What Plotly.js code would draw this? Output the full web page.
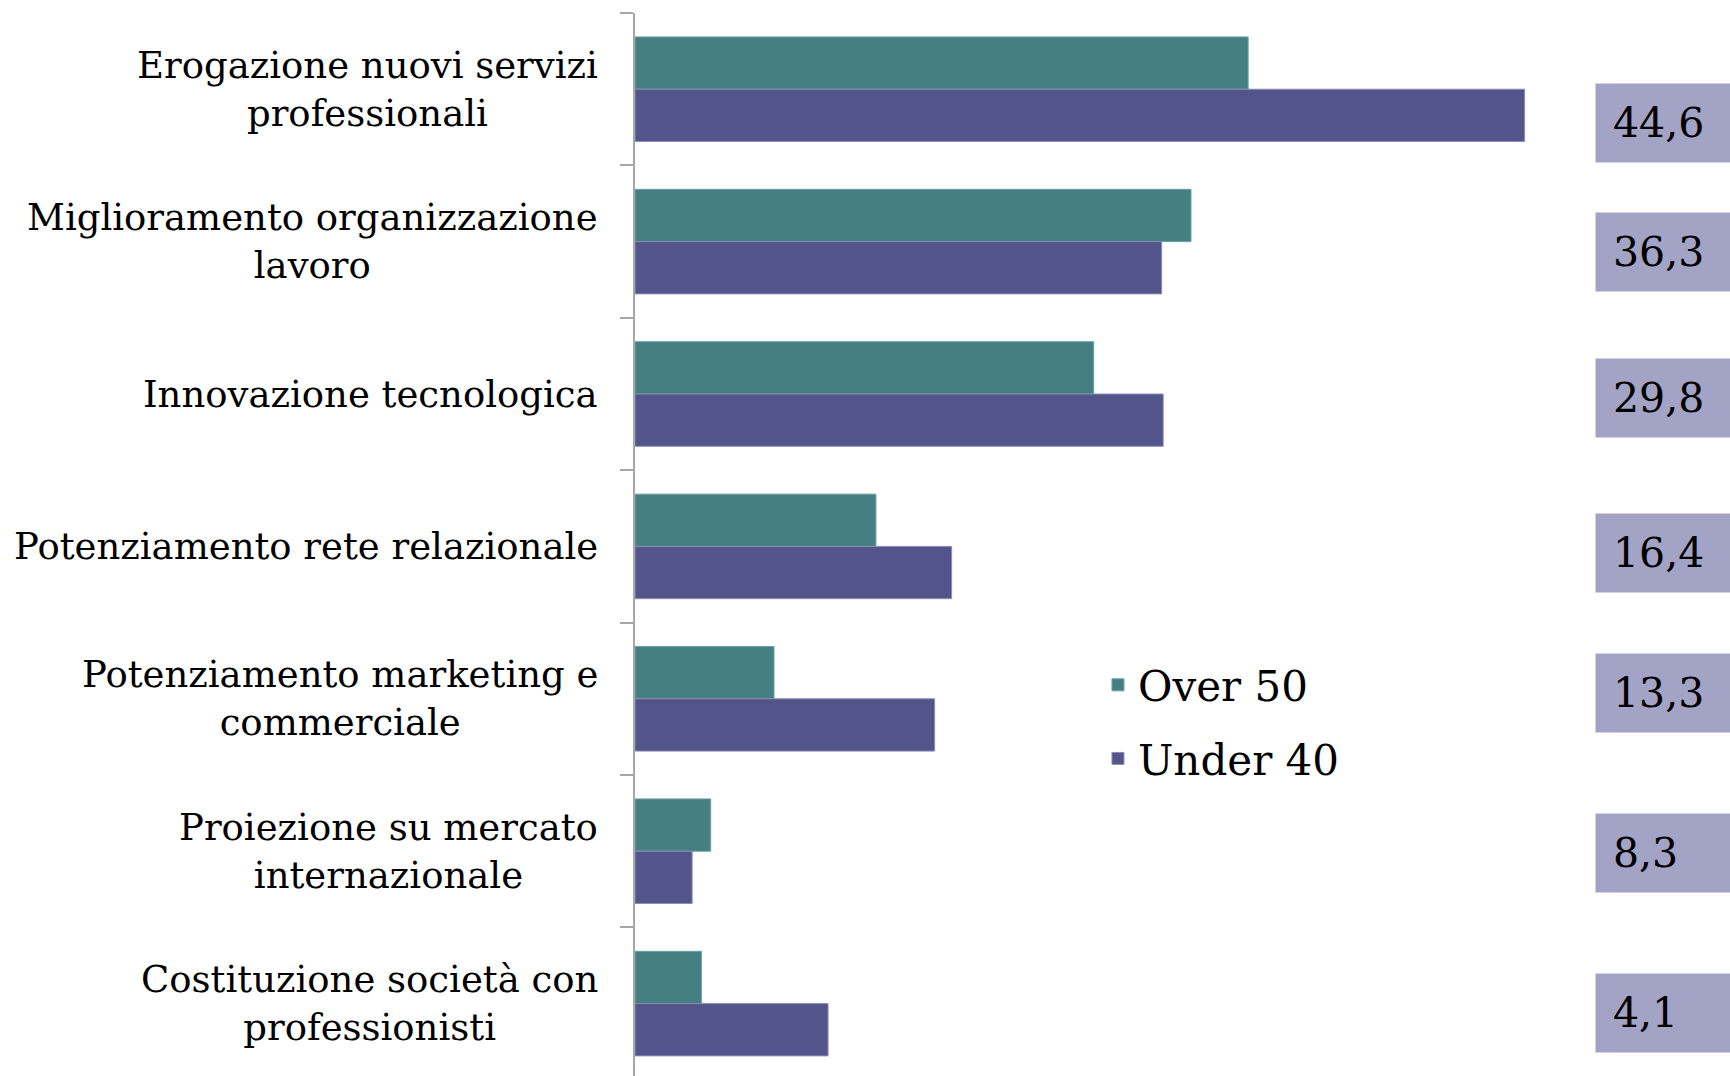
<!DOCTYPE html>
<html>
<head>
<meta charset="utf-8">
<script src="https://cdn.plot.ly/plotly-3.0.1.min.js"></script>
<style>html,body{margin:0;padding:0;background:#fff;}</style>
</head>
<body>
<div id="chart" style="width:1730px;height:1076px;"></div>
<script>
// Data
var categories = [
  "Erogazione nuovi servizi<br>professionali",
  "Miglioramento organizzazione<br>lavoro",
  "Innovazione tecnologica",
  "Potenziamento rete relazionale",
  "Potenziamento marketing e<br>commerciale",
  "Proiezione su mercato<br>internazionale",
  "Costituzione società con<br>professionisti"
];
var over50 = [39.7, 36.0, 29.7, 15.6, 9.0, 4.9, 4.3];
var under40 = [57.6, 34.1, 34.2, 20.5, 19.4, 3.7, 12.5];
var totals = [44.6, 36.3, 29.8, 16.4, 13.3, 8.3, 4.1];
var seriesNames = ["Over 50", "Under 40"];

// Styling helpers (pixel nudges for the total boxes)
var boxNudge = [34, 10, 4, 7, -6, 2, 9];

var FONT = "DejaVu Serif, Georgia, serif";

var traces = [
  {
    type: "bar", orientation: "h", name: seriesNames[0],
    y: categories, x: over50,
    marker: {color: "#457f82", line: {color: "#6a9fa2", width: 1}},
    legendgroup: "a", hoverinfo: "x"
  },
  {
    type: "bar", orientation: "h", name: seriesNames[1],
    y: categories, x: under40,
    marker: {color: "#535489", line: {color: "#8a8bb8", width: 1}},
    legendgroup: "b", hoverinfo: "x"
  }
];

var annotations = [];
categories.forEach(function (c, i) {
  annotations.push({
    xref: "paper", yref: "y", x: -0.032, y: c,
    xanchor: "right", yanchor: "middle", align: "center",
    text: c, showarrow: false,
    font: {family: FONT, size: 37, color: "#000"}
  });
  annotations.push({
    xref: "paper", yref: "y", x: 0.8767, y: c, yshift: -boxNudge[i],
    xanchor: "left", yanchor: "middle", align: "left",
    text: totals[i].toFixed(1).replace(".", ","), showarrow: false,
    width: 130, height: 44, borderpad: 17, valign: "middle",
    bgcolor: "#a3a3c6",
    font: {family: FONT, size: 41, color: "#000"}
  });
});

var layout = {
  width: 1730, height: 1076,
  margin: {l: 635, r: 0, t: 13, b: 0, pad: 0},
  paper_bgcolor: "#fff", plot_bgcolor: "#fff",
  barmode: "group", bargap: 0.314, bargroupgap: 0,
  showlegend: true,
  legend: {
    x: 0.4228, y: 0.333, xanchor: "left", yanchor: "middle",
    traceorder: "grouped", tracegroupgap: 16,
    bgcolor: "rgba(0,0,0,0)",
    font: {family: FONT, size: 42, color: "#000"}
  },
  xaxis: {
    range: [0, 70.9], showgrid: false, zeroline: false,
    showline: false, showticklabels: false, ticks: ""
  },
  yaxis: {
    type: "category", categoryorder: "array", categoryarray: categories,
    range: [6.475, -0.5],
    tickson: "boundaries", ticks: "outside", ticklen: 13, tickwidth: 2,
    tickcolor: "#a6a6a6", showline: true, linecolor: "#a6a6a6", linewidth: 2,
    showticklabels: false, showgrid: false, zeroline: false
  },
  annotations: annotations
};

Plotly.newPlot("chart", traces, layout, {displayModeBar: false, staticPlot: true});
</script>
</body>
</html>
